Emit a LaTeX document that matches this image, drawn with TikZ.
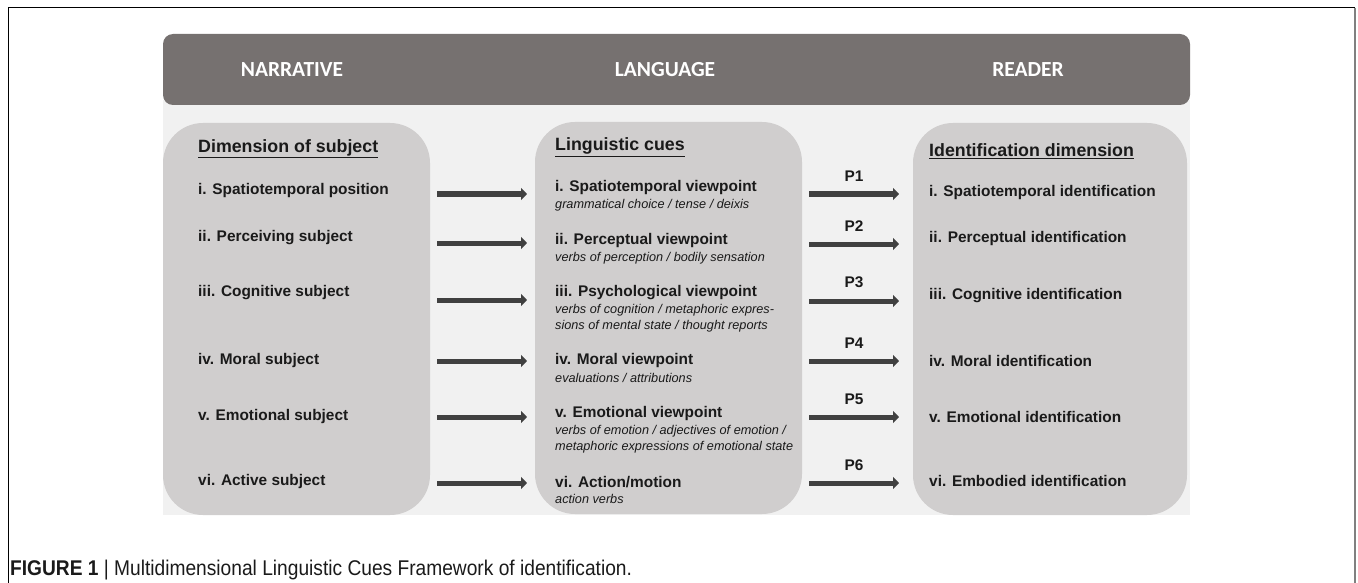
\documentclass[tikz,border=0pt]{standalone}
\usepackage{fontspec}
\setmainfont{Liberation Sans}
\newfontfamily\headfont{Carlito}
\newfontfamily\capfont[FakeStretch=0.9]{Liberation Sans}
\usepackage{xcolor}
\usetikzlibrary{arrows.meta}

\definecolor{headgray}{HTML}{767170}
\definecolor{panelgray}{HTML}{F1F1F1}
\definecolor{boxgray}{HTML}{D0CECE}
\definecolor{arrowgray}{HTML}{404040}
\definecolor{inkblack}{HTML}{1A1A1A}

\begin{document}
\begin{tikzpicture}[x=1pt, y=-1pt,
    colbox/.style={fill=boxgray, rounded corners=40pt},
    headtext/.style={text=white, font=\headfont\bfseries\fontsize{21.5}{24}\selectfont},
    headline/.style={anchor=west, inner sep=0pt, text=inkblack, font=\bfseries\fontsize{17.8}{20}\selectfont},
    item/.style={anchor=west, inner sep=0pt, text=inkblack, font=\bfseries\fontsize{15.4}{18}\selectfont},
    cue/.style={anchor=west, inner sep=0pt, align=left, text=inkblack, font=\itshape\fontsize{12.7}{16}\selectfont},
    flow/.style={draw=arrowgray, line width=5pt, -{Triangle[length=6pt, width=12pt]}},
    plabel/.style={text=inkblack, font=\bfseries\fontsize{15.4}{18}\selectfont}]
\useasboundingbox (0,0) rectangle (1358,583);

% Draw the frame
\draw[black, line width=1pt] (8,583) -- (8,8) -- (1355,8);
\draw[gray, line width=2.5pt] (1355,8) -- (1355,583);

% Draw the panel and header
\fill[panelgray] (163,100) rectangle (1190,515);
\fill[headgray, rounded corners=10pt] (163,34) rectangle (1190,105);
\node[headtext] (hnarr) at (292,70) {NARRATIVE};
\node[headtext] (hlang) at (665,70) {LANGUAGE};
\node[headtext] (hread) at (1028,70) {READER};

% Draw the three columns
\fill[colbox] (163,123) rectangle (430,515);
\fill[colbox] (535,122) rectangle (802,514);
\fill[colbox] (913,123) rectangle (1187,515);

% Narrative column
\node[headline] (nhead) at (198,149) {\underline{Dimension of subject}};
\node[item] (n1) at (198,191) {i. Spatiotemporal position};
\node[item] (n2) at (198,238) {ii. Perceiving subject};
\node[item] (n3) at (198,293) {iii. Cognitive subject};
\node[item] (n4) at (198,361) {iv. Moral subject};
\node[item] (n5) at (198,417) {v. Emotional subject};
\node[item] (n6) at (198,482) {vi. Active subject};

% Language column
\node[headline] (lhead) at (555,147) {\underline{Linguistic cues}};
\node[item] (l1) at (555,188) {i. Spatiotemporal viewpoint};
\node[cue] (l1c) at (555,205) {grammatical choice / tense / deixis};
\node[item] (l2) at (555,241) {ii. Perceptual viewpoint};
\node[cue] (l2c) at (555,258) {verbs of perception / bodily sensation};
\node[item] (l3) at (555,293) {iii. Psychological viewpoint};
\node[cue] (l3c) at (555,318) {verbs of cognition / metaphoric expres-\\sions of mental state / thought reports};
\node[item] (l4) at (555,361) {iv. Moral viewpoint};
\node[cue] (l4c) at (555,378) {evaluations / attributions};
\node[item] (l5) at (555,414) {v. Emotional viewpoint};
\node[cue] (l5c) at (555,439) {verbs of emotion / adjectives of emotion /\\metaphoric expressions of emotional state};
\node[item] (l6) at (555,482) {vi. Action/motion};
\node[cue] (l6c) at (555,499) {action verbs};

% Reader column
\node[headline] (rhead) at (929,151) {\underline{Identification dimension}};
\node[item] (r1) at (929,193) {i. Spatiotemporal identification};
\node[item] (r2) at (929,239) {ii. Perceptual identification};
\node[item] (r3) at (929,296) {iii. Cognitive identification};
\node[item] (r4) at (929,361) {iv. Moral identification};
\node[item] (r5) at (929,417) {v. Emotional identification};
\node[item] (r6) at (929,481) {vi. Embodied identification};

% Draw arrows narrative -> language
\foreach \y [count=\i] in {194,243,300,361,417,483}
{
    \coordinate (ls\i) at (437,\y);
    \coordinate (le\i) at (527,\y);
    \draw[flow] (ls\i) -- (le\i);
}

% Draw arrows language -> reader with paths
\foreach \y [count=\i] in {194,244,301,361,417,483}
{
    \coordinate (rs\i) at (809,\y);
    \coordinate (re\i) at (899,\y);
    \draw[flow] (rs\i) -- node[plabel, above=7pt] (p\i) {P\i} (re\i);
}

% Add caption
\node[anchor=base west, inner sep=0pt, text=inkblack, font=\capfont\fontsize{21.3}{24}\selectfont] (cap) at (10,575)
    {\textbf{FIGURE 1} | Multidimensional Linguistic Cues Framework of identification.};

\end{tikzpicture}
\end{document}
